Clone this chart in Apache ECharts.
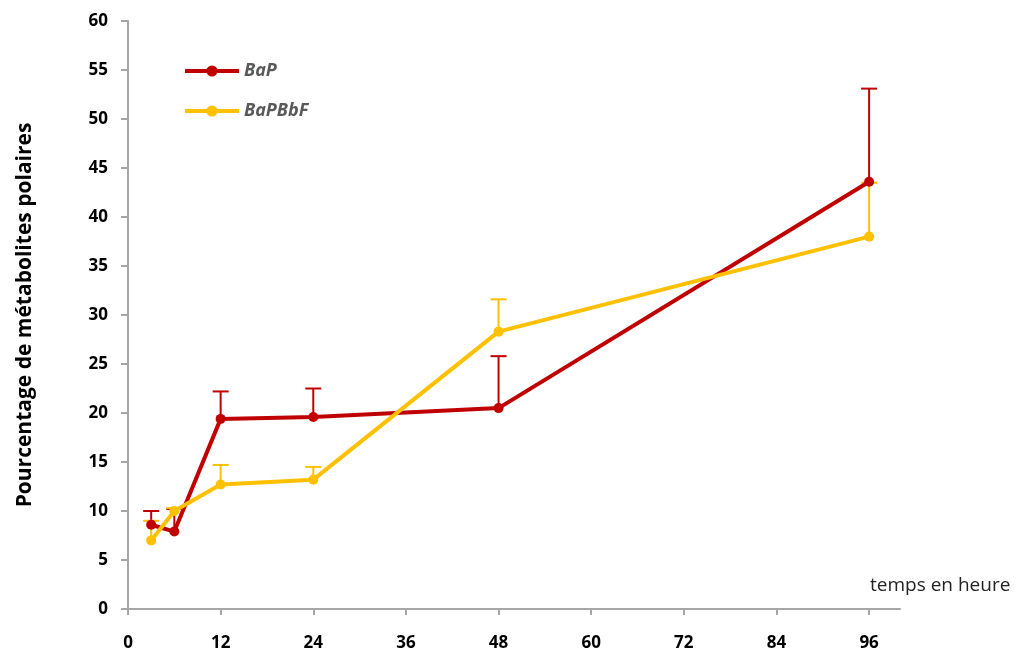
<!DOCTYPE html>
<html><head><meta charset="utf-8">
<script src="https://cdn.jsdelivr.net/npm/echarts@6/dist/echarts.min.js"></script>
<style>html,body{margin:0;padding:0;background:#fff}#c{width:1016px;height:655px}</style>
</head><body><div id="c"></div>
<script>
var hours = [3, 6, 12, 24, 48, 96];
var bapValues = [8.6, 7.9, 19.4, 19.6, 20.5, 43.6];
var bapErrTop = [10.0, 10.2, 22.2, 22.5, 25.8, 53.1];
var bbfValues = [7.0, 10.0, 12.7, 13.2, 28.3, 38.0];
var bbfErrTop = [9.0, 10.3, 14.7, 14.5, 31.6, 43.5];
var xTicks = [0, 12, 24, 36, 48, 60, 72, 84, 96];
var yTicks = [0, 5, 10, 15, 20, 25, 30, 35, 40, 45, 50, 55, 60];
var xTitle = 'temps en heure';
var yTitle = 'Pourcentage de métabolites polaires';

var RED = '#c00000', YEL = '#ffc000';
function pts(xs, ys){ return xs.map(function(x,i){return [x, ys[i]];}); }
function errData(xs, lo, hi){ return xs.map(function(x,i){return [x, lo[i], hi[i]];}); }
function errRender(color){
  return function(params, api){
    var x = api.value(0), lo = api.coord([x, api.value(1)]), hi = api.coord([x, api.value(2)]);
    var w = 8;
    return {type:'group', children:[
      {type:'line', shape:{x1:lo[0],y1:lo[1],x2:hi[0],y2:hi[1]}, style:{stroke:color,lineWidth:2}},
      {type:'line', shape:{x1:hi[0]-w,y1:hi[1],x2:hi[0]+w,y2:hi[1]}, style:{stroke:color,lineWidth:2}}
    ]};
  };
}
var chart = echarts.init(document.getElementById('c'));
chart.setOption({
  animation:false,
  textStyle:{fontFamily:'Open Sans'},
  grid:{left:128, right:116, top:21, bottom:46, containLabel:false, outerBoundsMode:'none'},
  legend:{
    orient:'vertical', left:178, top:57, itemGap:22, itemWidth:54, itemHeight:14,
    data:['BaP','BaPBbF'],
    lineStyle:{width:4},
    textStyle:{fontStyle:'italic', fontWeight:'bold', color:'#595959', fontSize:18, fontFamily:'Open Sans'}
  },
  graphic:[{
    type:'text', left:870, top:576,
    style:{text:xTitle, fill:'#222', fontSize:19, fontFamily:'Open Sans'}
  }],
  xAxis:{
    type:'value', min:0, max:100, interval:12,
    axisLine:{show:true, lineStyle:{color:'#a6a6a6', width:2}},
    axisTick:{show:true, length:6, lineStyle:{color:'#a6a6a6', width:2}, customValues:xTicks},
    axisLabel:{margin:26, color:'#000', fontWeight:'bold', fontSize:17, customValues:xTicks},
    splitLine:{show:false}
  },
  yAxis:{
    type:'value', min:0, max:60, interval:5,
    name:yTitle, nameLocation:'middle', nameGap:92, nameRotate:90,
    nameTextStyle:{color:'#000', fontSize:21, fontWeight:'bold', fontFamily:'Open Sans'},
    axisLine:{show:true, lineStyle:{color:'#a6a6a6', width:2}},
    axisTick:{show:true, length:7, lineStyle:{color:'#a6a6a6', width:2}},
    axisLabel:{margin:20, color:'#000', fontWeight:'bold', fontSize:17,
      formatter:function(v){ return yTicks.indexOf(v) >= 0 ? String(v) : ''; }},
    splitLine:{show:false}
  },
  series:[
    {type:'custom', name:'errBaP', renderItem:errRender(RED), data:errData(hours, bapValues, bapErrTop), z:1, silent:true},
    {type:'custom', name:'errBbF', renderItem:errRender(YEL), data:errData(hours, bbfValues, bbfErrTop), z:1, silent:true},
    {type:'line', name:'BaP', data:pts(hours, bapValues), color:RED, symbol:'circle', symbolSize:10,
      lineStyle:{width:4, color:RED}, itemStyle:{color:RED}, z:3},
    {type:'line', name:'BaPBbF', data:pts(hours, bbfValues), color:YEL, symbol:'circle', symbolSize:10,
      lineStyle:{width:4, color:YEL}, itemStyle:{color:YEL}, z:4}
  ]
});
</script></body></html>
